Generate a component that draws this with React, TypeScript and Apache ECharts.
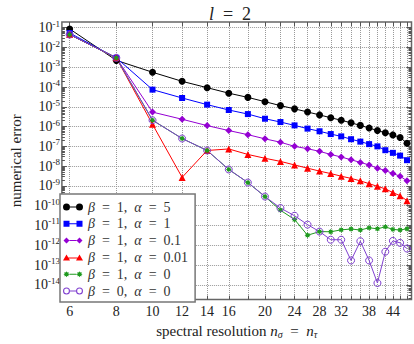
import React, { useEffect, useRef } from 'react';
import * as echarts from 'echarts';

// spectral resolution n
const nValues = [6, 8, 10, 12, 14, 16, 18, 20, 22, 24, 26, 28, 30, 32, 34, 36, 38, 40, 42, 44, 46, 48];
const xTickLabels = [6, 8, 10, 12, 14, 16, 20, 24, 28, 32, 38, 44];
const yMajorTicks = [1e-14, 1e-13, 1e-12, 1e-11, 1e-10, 1e-9, 1e-8, 1e-7, 1e-6, 1e-5, 1e-4, 1e-3, 1e-2, 1e-1];

// numerical error per series
const errB1A5 = [8.7e-2, 2.24e-3, 5.6e-4, 1.95e-4, 9.3e-5, 4.9e-5, 3.0e-5, 1.82e-5, 1.15e-5, 7.9e-6, 5.5e-6, 3.9e-6, 2.8e-6, 2.1e-6, 1.55e-6, 1.15e-6, 8.5e-7, 6.3e-7, 4.9e-7, 3.8e-7, 2.8e-7, 1.45e-7];
const errB1A1 = [5.4e-2, 3.0e-3, 7.4e-5, 2.8e-5, 1.29e-5, 6.9e-6, 4.3e-6, 2.5e-6, 1.7e-6, 1.15e-6, 7.9e-7, 5.8e-7, 4.2e-7, 3.2e-7, 2.3e-7, 1.74e-7, 1.3e-7, 1.0e-7, 6.4e-8, 4.7e-8, 3.4e-8, 2.0e-8];
const errB1A01 = [4.5e-2, 3.0e-3, 5.4e-6, 2.35e-6, 1.12e-6, 6.3e-7, 3.9e-7, 2.4e-7, 1.62e-7, 1.0e-7, 7.6e-8, 5.6e-8, 3.9e-8, 2.9e-8, 2.1e-8, 1.55e-8, 1.15e-8, 7.9e-9, 6.0e-9, 4.2e-9, 3.1e-9, 1.8e-9];
const errB1A001 = [4.5e-2, 3.0e-3, 1.3e-6, 2.7e-9, 6.2e-8, 7.4e-8, 3.9e-8, 2.5e-8, 1.74e-8, 1.15e-8, 7.9e-9, 5.6e-9, 4.2e-9, 3.1e-9, 2.4e-9, 1.8e-9, 1.3e-9, 9.5e-10, 7.1e-10, 4.6e-10, 3.2e-10, 1.8e-10];
const errB1A0 = [4.5e-2, 3.0e-3, 2.1e-6, 2.5e-7, 6.2e-8, 6.8e-9, 1.48e-9, 2.9e-10, 5.9e-11, 2.0e-11, 3.2e-12, 4.9e-12, 4.8e-12, 6.0e-12, 6.6e-12, 5.9e-12, 7.6e-12, 6.8e-12, 8.5e-12, 6.3e-12, 5.9e-12, 6.8e-12];
const errB0A0 = [4.5e-2, 3.0e-3, 2.1e-6, 2.5e-7, 6.2e-8, 6.8e-9, 1.48e-9, 2.9e-10, 7.6e-11, 3.1e-11, 1.1e-11, 4.9e-12, 1.9e-12, 1.9e-12, 1.7e-13, 1.6e-12, 1.7e-13, 1.23e-14, 4.7e-13, 1.66e-12, 1.32e-12, 6.8e-13];

const seriesNames = ['β = 1, α = 5', 'β = 1, α = 1', 'β = 1, α = 0.1', 'β = 1, α = 0.01', 'β = 1, α = 0', 'β = 0, α = 0'];

const FONT = '"Liberation Serif", "DejaVu Serif", serif';
const C_BLACK = '#000000';
const C_BLUE = '#0000ff';
const C_VIOLET = '#9400d3';
const C_RED = '#ff0000';
const C_GREEN = '#1f9a1f';
const C_OPEN = '#8040d0';
const EN = '\u2002';

const STAR = 'path://M20,10 L15.54,12.3 L17.07,17.07 L12.3,15.54 L10,20 L7.7,15.54 L2.93,17.07 L4.46,12.3 L0,10 L4.46,7.7 L2.93,2.93 L7.7,4.46 L10,0 L12.3,4.46 L17.07,2.93 L15.54,7.7 Z';

const LINK = 'M7,3 H13 V4 H7 Z';
const ICON_CIRCLE = 'path://M0,3.5 A3.5,3.5 0 1,1 7,3.5 A3.5,3.5 0 1,1 0,3.5 Z M13,3.5 A3.5,3.5 0 1,1 20,3.5 A3.5,3.5 0 1,1 13,3.5 Z ' + LINK;
const ICON_SQUARE = 'path://M0.5,0.5 H6.5 V6.5 H0.5 Z M13.5,0.5 H19.5 V6.5 H13.5 Z M6.5,3 H13.5 V4 H6.5 Z M0,3.5 H0.01 V3.51 Z M20,3.5 H19.99 V3.51 Z M3.5,0 H3.51 V0.01 Z M3.5,7 H3.51 V6.99 Z';
const ICON_DIAMOND = 'path://M3.5,0.5 L6.5,3.5 L3.5,6.5 L0.5,3.5 Z M16.5,0.5 L19.5,3.5 L16.5,6.5 L13.5,3.5 Z M6.5,3 H13.5 V4 H6.5 Z M0,3.5 H0.01 V3.51 Z M20,3.5 H19.99 V3.51 Z M3.5,0 H3.51 V0.01 Z M3.5,7 H3.51 V6.99 Z';
const ICON_TRIANGLE = 'path://M3.5,0.5 L7,6.5 L0,6.5 Z M16.5,0.5 L20,6.5 L13,6.5 Z M5,3.5 H15 V4.5 H5 Z M3.5,0 H3.51 V0.01 Z M3.5,7 H3.51 V6.99 Z';
const ICON_STAR = 'path://M6.5,3.5 L5.3,4.25 L5.6,5.6 L4.25,5.3 L3.5,6.5 L2.75,5.3 L1.4,5.6 L1.7,4.25 L0.5,3.5 L1.7,2.75 L1.4,1.4 L2.75,1.7 L3.5,0.5 L4.25,1.7 L5.6,1.4 L5.3,2.75 Z M19.5,3.5 L18.3,4.25 L18.6,5.6 L17.25,5.3 L16.5,6.5 L15.75,5.3 L14.4,5.6 L14.7,4.25 L13.5,3.5 L14.7,2.75 L14.4,1.4 L15.75,1.7 L16.5,0.5 L17.25,1.7 L18.6,1.4 L18.3,2.75 Z M6.5,3 H13.5 V4 H6.5 Z M0,3.5 H0.01 V3.51 Z M20,3.5 H19.99 V3.51 Z M3.5,0 H3.51 V0.01 Z M3.5,7 H3.51 V6.99 Z';
const ICON_RING = 'path://M0,3.5 A3.5,3.5 0 1,1 7,3.5 A3.5,3.5 0 1,1 0,3.5 Z M1.1,3.5 A2.4,2.4 0 1,0 5.9,3.5 A2.4,2.4 0 1,0 1.1,3.5 Z M13,3.5 A3.5,3.5 0 1,1 20,3.5 A3.5,3.5 0 1,1 13,3.5 Z M14.1,3.5 A2.4,2.4 0 1,0 18.9,3.5 A2.4,2.4 0 1,0 14.1,3.5 Z ' + LINK;

const X_MIN = 5.72;
const X_MAX = 49.35;
const Y_MIN = 1.78e-15;
const Y_MAX = 0.195;

function pairs(vals: number[]) {
  return nValues.map((n, i) => [n, vals[i]]);
}

export default function App() {
  const ref = useRef<HTMLDivElement>(null);
  useEffect(() => {
    if (!ref.current) return;
    const chart = echarts.init(ref.current, null, { renderer: 'svg' });
    const yMinor: number[] = [];
    for (let e = -15; e <= -1; e++) {
      for (let m = 2; m <= 9; m++) {
        const v = m * Math.pow(10, e);
        if (v > Y_MIN && v < Y_MAX) yMinor.push(v);
      }
    }
    const tickColor = '#555';
    const baseY = { type: 'log', logBase: 10, min: Y_MIN, max: Y_MAX, gridIndex: 0 } as any;
    const baseX = { type: 'log', logBase: 10, min: X_MIN, max: X_MAX, gridIndex: 0 } as any;
    const lineSeries = (name: string, data: number[], color: string, symbol: string, size: number, extra: any = {}) => ({
      name,
      type: 'line',
      data: pairs(data),
      symbol,
      symbolSize: size,
      showAllSymbol: true,
      lineStyle: { color, width: 1 },
      itemStyle: { color },
      emphasis: { disabled: true },
      ...extra,
    });
    const option: any = {
      animation: false,
      backgroundColor: '#ffffff',
      title: {
        text: `{i|l}${EN}=${EN}2`,
        left: 225,
        top: 0,
        textAlign: 'center',
        textStyle: {
          fontFamily: FONT,
          fontSize: 18,
          fontWeight: 'normal',
          color: '#222',
          rich: { i: { fontFamily: FONT, fontSize: 18, fontStyle: 'italic', color: '#222' } },
        },
      },
      grid: {
        left: 47,
        right: 2.5,
        top: 22,
        bottom: 32,
        show: true,
        borderColor: '#666',
        borderWidth: 1.5,
        backgroundColor: 'rgba(0,0,0,0)',
      },
      legend: {
        orient: 'vertical',
        left: 60,
        top: 194,
        backgroundColor: '#ffffff',
        borderColor: '#777',
        borderWidth: 1.5,
        borderRadius: 0,
        padding: [5, 7, 3, 3],
        itemGap: 0.8,
        itemWidth: 20,
        itemHeight: 7,
        itemTextGap: 4,
        symbolKeepAspect: true,
        selectedMode: false,
        textStyle: {
          fontFamily: FONT,
          fontSize: 14,
          lineHeight: 16,
          color: '#333',
          rich: { i: { fontFamily: FONT, fontSize: 14, lineHeight: 16, fontStyle: 'italic', color: '#333' } },
        },
        formatter: (name: string) =>
          name.split(' ').join(EN).replace('β', '{i|β}').replace('α', '{i|α}'),
        data: [
          { name: seriesNames[0], icon: ICON_CIRCLE, itemStyle: { color: C_BLACK, borderWidth: 0 } },
          { name: seriesNames[1], icon: ICON_SQUARE, itemStyle: { color: C_BLUE, borderWidth: 0 } },
          { name: seriesNames[2], icon: ICON_DIAMOND, itemStyle: { color: C_VIOLET, borderWidth: 0 } },
          { name: seriesNames[3], icon: ICON_TRIANGLE, itemStyle: { color: C_RED, borderWidth: 0 } },
          { name: seriesNames[4], icon: ICON_STAR, itemStyle: { color: C_GREEN, borderWidth: 0 } },
          { name: seriesNames[5], icon: ICON_RING, itemStyle: { color: C_OPEN, borderWidth: 0 } },
        ],
      },
      xAxis: [
        {
          ...baseX,
          position: 'bottom',
          axisLine: { show: false },
          axisTick: { show: true, inside: true, length: 4, customValues: nValues, lineStyle: { color: tickColor } },
          axisLabel: {
            customValues: xTickLabels,
            formatter: (v: number) => String(Math.round(v)),
            fontFamily: FONT,
            fontSize: 14,
            color: '#222',
            margin: 5,
          },
          splitLine: { show: true, lineStyle: { type: 'dotted', color: '#999', width: 1 } },
          name: `{t|spectral resolution }{i|n}{s|σ}{t|${EN}=${EN}}{i|n}{s|τ}`,
          nameLocation: 'middle',
          nameGap: 21,
          nameTextStyle: {
            fontFamily: FONT,
            fontSize: 15,
            color: '#222',
            rich: {
              t: { fontFamily: FONT, fontSize: 15, color: '#222' },
              i: { fontFamily: FONT, fontSize: 15, fontStyle: 'italic', color: '#222' },
              s: { fontFamily: FONT, fontSize: 10, fontStyle: 'italic', color: '#222', padding: [6, 0, 0, 0] },
            },
          },
        },
        {
          ...baseX,
          position: 'top',
          axisLine: { show: false },
          axisTick: { show: true, inside: true, length: 4, customValues: nValues, lineStyle: { color: tickColor } },
          axisLabel: { show: false },
          splitLine: { show: false },
        },
      ],
      yAxis: [
        {
          ...baseY,
          position: 'left',
          axisLine: { show: false },
          axisTick: { show: true, inside: true, length: 5, customValues: yMajorTicks, lineStyle: { color: tickColor } },
          axisLabel: {
            customValues: yMajorTicks,
            margin: 2,
            formatter: (v: number) => `{b|10}{s|${Math.round(Math.log10(v))}}`,
            rich: {
              b: { fontFamily: FONT, fontSize: 14, color: '#222' },
              s: { fontFamily: FONT, fontSize: 9, color: '#222', padding: [0, 0, 8, 0] },
            },
          },
          splitLine: { show: true, lineStyle: { type: 'dotted', color: '#999', width: 1 } },
          name: 'numerical error',
          nameLocation: 'middle',
          nameGap: 36,
          nameTextStyle: { fontFamily: FONT, fontSize: 15, color: '#222' },
        },
        {
          ...baseY,
          position: 'left',
          axisLine: { show: false },
          axisTick: { show: true, inside: true, length: 3, customValues: yMinor, lineStyle: { color: tickColor } },
          axisLabel: { show: false },
          splitLine: { show: false },
        },
        {
          ...baseY,
          position: 'right',
          axisLine: { show: false },
          axisTick: { show: true, inside: true, length: 5, customValues: yMajorTicks, lineStyle: { color: tickColor } },
          axisLabel: { show: false },
          splitLine: { show: false },
        },
        {
          ...baseY,
          position: 'right',
          axisLine: { show: false },
          axisTick: { show: true, inside: true, length: 3, customValues: yMinor, lineStyle: { color: tickColor } },
          axisLabel: { show: false },
          splitLine: { show: false },
        },
      ],
      series: [
        lineSeries(seriesNames[0], errB1A5, C_BLACK, 'circle', 7),
        lineSeries(seriesNames[1], errB1A1, C_BLUE, 'rect', 6),
        lineSeries(seriesNames[2], errB1A01, C_VIOLET, 'diamond', 7),
        lineSeries(seriesNames[3], errB1A001, C_RED, 'triangle', 7),
        lineSeries(seriesNames[4], errB1A0, C_GREEN, STAR, 6),
        lineSeries(seriesNames[5], errB0A0, C_OPEN, 'circle', 7, {
          itemStyle: { color: 'rgba(255,255,255,0)', borderColor: C_OPEN, borderWidth: 1 },
        }),
      ],
    };
    chart.setOption(option);
    return () => chart.dispose();
  }, []);
  return (
    <div
      ref={ref}
      style={{ position: 'fixed', left: 0, top: 0, width: 414, height: 344 }}
    />
  );
}
